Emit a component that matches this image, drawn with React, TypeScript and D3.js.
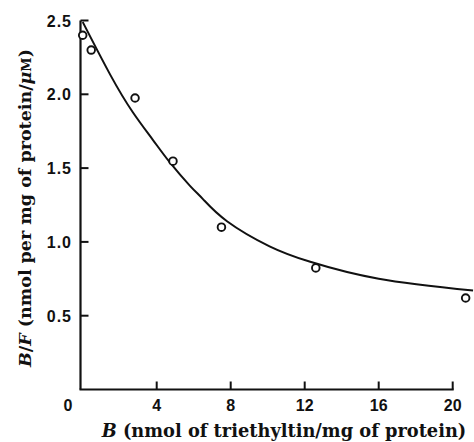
import React from "react";
import * as d3 from "d3";

const pointsB = [0.0, 0.46, 2.83, 4.88, 7.5, 12.6, 20.7];
const pointsBF = [2.4, 2.3, 1.975, 1.547, 1.1, 0.824, 0.62];

const curveB = [0, 1.5, 2.7, 3.8, 4.7, 5.8, 6.5, 7.8, 10.1, 12.3, 16, 21.1];
const curveBF = [2.49, 2.13, 1.88, 1.69, 1.54, 1.38, 1.29, 1.14, 0.97, 0.865, 0.75, 0.67];

const xTicks = [0, 4, 8, 12, 16, 20];
const yTicks = [0.5, 1.0, 1.5, 2.0, 2.5];

const W = 474;
const H = 442;

export default function App() {
  const x = d3.scaleLinear().domain([0, 20]).range([82.7, 452.7]);
  const y = d3.scaleLinear().domain([0, 2.5]).range([389.5, 20.5]);
  const line = d3
    .line<number>()
    .x((_, i) => x(curveB[i]))
    .y((d) => y(d))
    .curve(d3.curveNatural);
  const axisLeft = 80.5;
  const numFont = "Liberation Sans, Arial, sans-serif";
  const serif = "DejaVu Serif, Liberation Serif, serif";
  return (
    <svg
      width={W}
      height={H}
      style={{ position: "absolute", left: 0, top: 0, background: "#fff" }}
    >
      <rect width={W} height={H} fill="#fff" />
      <line x1={axisLeft} x2={axisLeft} y1={y(2.5)} y2={y(0)} stroke="#111" strokeWidth={2.2} />
      <line x1={axisLeft - 1} x2={x(20) + 1} y1={y(0)} y2={y(0)} stroke="#111" strokeWidth={2.2} />
      {yTicks.map((t) => (
        <g key={"y" + t}>
          <line x1={axisLeft} x2={axisLeft + 8} y1={y(t)} y2={y(t)} stroke="#111" strokeWidth={2} />
          <text
            x={72}
            y={y(t) + 6}
            textAnchor="end"
            fontFamily={numFont}
            fontWeight="bold"
            fontSize={16}
            letterSpacing={1}
            fill="#111"
          >
            {t.toFixed(1)}
          </text>
        </g>
      ))}
      {xTicks.map((t) => (
        <g key={"x" + t}>
          {t > 0 && (
            <line x1={x(t)} x2={x(t)} y1={y(0)} y2={y(0) - 8} stroke="#111" strokeWidth={2} />
          )}
          <text
            x={t === 0 ? 68 : x(t)}
            y={411}
            textAnchor="middle"
            fontFamily={numFont}
            fontWeight="bold"
            fontSize={16}
            fill="#111"
          >
            {t}
          </text>
        </g>
      ))}
      <path d={line(curveBF) || ""} fill="none" stroke="#111" strokeWidth={2} />
      {pointsB.map((b, i) => (
        <circle
          key={"p" + i}
          cx={x(b)}
          cy={y(pointsBF[i])}
          r={3.8}
          fill="#fff"
          stroke="#111"
          strokeWidth={1.9}
        />
      ))}
      <text x={284} y={437} textAnchor="middle" fontFamily={serif} fontWeight="bold" fontSize={17.8} fill="#111">
        <tspan fontStyle="italic">B</tspan>
        <tspan> (nmol of triethyltin/mg of protein)</tspan>
      </text>
      <text
        transform={`translate(31,${208}) rotate(-90)`}
        textAnchor="middle"
        fontFamily={serif}
        fontWeight="bold"
        fontSize={17.5}
        fill="#111"
      >
        <tspan fontStyle="italic">B</tspan>
        <tspan>/</tspan>
        <tspan fontStyle="italic">F</tspan>
        <tspan> (nmol per mg of protein/</tspan>
        <tspan fontStyle="italic">μ</tspan>
        <tspan fontSize={13}>M</tspan>
        <tspan>)</tspan>
      </text>
    </svg>
  );
}
